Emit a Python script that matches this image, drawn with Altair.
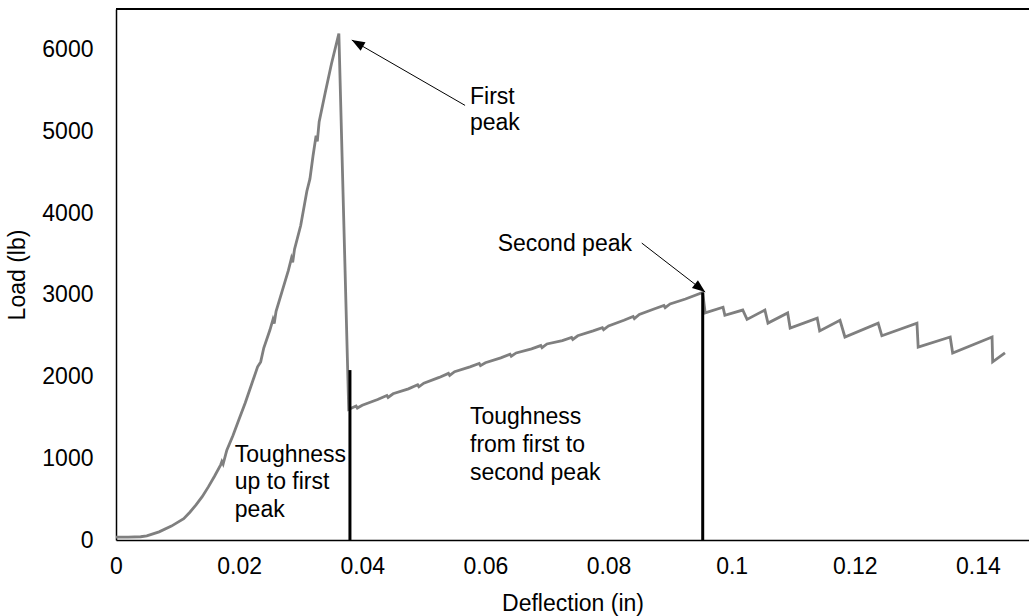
import altair as alt
import pandas as pd

# Load-deflection record: rise to the first peak, drop, hardening to the second peak, then sawtooth
defl_rise = [0, 0.002, 0.004, 0.005, 0.007, 0.009, 0.011, 0.012, 0.013, 0.014, 0.015,
             0.016, 0.017, 0.0172, 0.0174, 0.018, 0.019, 0.020, 0.021, 0.022, 0.023, 0.0235,
             0.024, 0.025, 0.0255, 0.0257, 0.026, 0.027, 0.028, 0.0285, 0.0287, 0.029, 0.030,
             0.031, 0.0315, 0.032, 0.0325, 0.0327, 0.033, 0.034, 0.035, 0.0362]
load_rise = [35, 35, 40, 50, 100, 170, 260, 340, 430, 530, 650,
             780, 920, 960, 930, 1100, 1280, 1480, 1680, 1900, 2120, 2180,
             2350, 2570, 2700, 2650, 2800, 3050, 3300, 3450, 3400, 3560, 3850,
             4270, 4420, 4700, 4950, 4880, 5120, 5480, 5830, 6200]

defl_mid = [0.0378, 0.0390, 0.0392, 0.040, 0.0425, 0.0440, 0.0442, 0.045, 0.0475, 0.0490,
            0.0492, 0.050, 0.0525, 0.0540, 0.0542, 0.055, 0.0575, 0.0590, 0.0592, 0.060,
            0.0625, 0.0640, 0.0642, 0.065, 0.0675, 0.0690, 0.0692, 0.070, 0.0725, 0.0740,
            0.0742, 0.075, 0.0775, 0.0790, 0.0792, 0.080, 0.0825, 0.0840, 0.0842, 0.085,
            0.0875, 0.0890, 0.0892, 0.090, 0.0925, 0.0953]
load_mid = [1600, 1640, 1615, 1650, 1720, 1770, 1745, 1790, 1850, 1900,
            1875, 1920, 1990, 2040, 2015, 2060, 2120, 2160, 2135, 2170,
            2230, 2275, 2250, 2290, 2340, 2380, 2355, 2400, 2440, 2480,
            2455, 2500, 2560, 2600, 2575, 2620, 2690, 2735, 2710, 2760,
            2830, 2870, 2845, 2890, 2950, 3030]

defl_tail = [0.0957, 0.0986, 0.0989, 0.1018, 0.1025, 0.1054, 0.1059, 0.1091, 0.1095,
             0.1139, 0.1143, 0.1176, 0.1184, 0.1238, 0.1244, 0.1301, 0.1303, 0.1355,
             0.1359, 0.1423, 0.1424, 0.1444]
load_tail = [2780, 2850, 2750, 2815, 2700, 2815, 2655, 2780, 2595,
             2715, 2560, 2690, 2485, 2655, 2500, 2655, 2360, 2485,
             2290, 2485, 2180, 2290]

# Vertical boundaries of the toughness areas
bound_defl = [0.0380, 0.0953]
bound_load = [2080, 3030]

# Annotation arrows: tail -> tip, with head angle (degrees, clockwise from up)
arrow_x = [0.0567, 0.0854]
arrow_y = [5320, 3635]
arrow_x2 = [0.0383, 0.0957]
arrow_y2 = [6120, 3035]
arrow_ang = [300, 128]

# Text annotations, one row per line
note_text = ["First", "peak", "Second peak",
             "Toughness", "up to first", "peak",
             "Toughness", "from first to", "second peak"]
note_x = [0.0575, 0.0575, 0.0620,
          0.0193, 0.0193, 0.0193,
          0.0575, 0.0575, 0.0575]
note_y = [5420, 5100, 3620,
          1040, 710, 370,
          1505, 1160, 820]

x_ticks = [0, 0.02, 0.04, 0.06, 0.08, 0.1, 0.12, 0.14]
y_ticks = [0, 1000, 2000, 3000, 4000, 5000, 6000]

FONT = "Liberation Sans"
FS = 23
W, H = 913, 531
X_MAX, Y_MAX = 0.1483, 6500

curve = pd.DataFrame({
    "defl": defl_rise + defl_mid + defl_tail,
    "load": load_rise + load_mid + load_tail,
})
curve["i"] = range(len(curve))

bounds = pd.DataFrame({"defl": bound_defl, "top": bound_load, "zero": [0, 0]})
arrows = pd.DataFrame({"x": arrow_x, "y": arrow_y, "x2": arrow_x2, "y2": arrow_y2, "ang": arrow_ang})
notes = pd.DataFrame({"t": note_text, "x": note_x, "y": note_y})

xs = alt.Scale(domain=[0, X_MAX], nice=False, zero=False)
ys = alt.Scale(domain=[0, Y_MAX], nice=False)

x_axis = alt.Axis(values=x_ticks, format="~g", labelFlush=False, labelPadding=15,
                  titlePadding=14, title="Deflection (in)")
y_axis = alt.Axis(values=y_ticks, format="d", labelPadding=23, titlePadding=12,
                  title="Load (lb)")

line = alt.Chart(curve).mark_line(color="#7f7f7f", strokeWidth=2.8).encode(
    x=alt.X("defl:Q", scale=xs, axis=x_axis),
    y=alt.Y("load:Q", scale=ys, axis=y_axis),
    order="i:Q",
)

walls = alt.Chart(bounds).mark_rule(color="black", strokeWidth=3).encode(
    x=alt.X("defl:Q", scale=xs),
    y=alt.Y("zero:Q", scale=ys),
    y2="top:Q",
)

shafts = alt.Chart(arrows).mark_rule(color="black", strokeWidth=1).encode(
    x=alt.X("x:Q", scale=xs), y=alt.Y("y:Q", scale=ys), x2="x2:Q", y2="y2:Q",
)

heads = alt.Chart(arrows).mark_point(
    shape="M0,0 L-0.75,2 L0.75,2 Z", filled=True, color="black", opacity=1, size=169,
    strokeWidth=0,
).encode(
    x=alt.X("x2:Q", scale=xs),
    y=alt.Y("y2:Q", scale=ys),
    angle=alt.Angle("ang:Q", scale=None),
)

labels = alt.Chart(notes).mark_text(
    align="left", baseline="middle", font=FONT, fontSize=FS, color="black",
).encode(
    x=alt.X("x:Q", scale=xs), y=alt.Y("y:Q", scale=ys), text="t:N",
)

top_edge = alt.Chart(pd.DataFrame({"k": [0]})).mark_rule(color="black", strokeWidth=2).encode(
    x=alt.value(0), x2=alt.value(W), y=alt.value(0),
)

chart = alt.layer(line, walls, shafts, heads, labels, top_edge).properties(
    width=W, height=H,
    autosize=alt.AutoSizeParams(type="none"),
    padding={"left": 116, "top": 9, "right": 0, "bottom": 76},
    background="white",
).configure_axis(
    domainColor="black", domainWidth=1.5, ticks=False, grid=False,
    labelFont=FONT, labelFontSize=FS, labelColor="black",
    titleFont=FONT, titleFontSize=FS, titleFontWeight="normal", titleColor="black",
).configure_view(stroke=None)

chart.save("out.html", embed_options={"renderer": "svg", "actions": False})
